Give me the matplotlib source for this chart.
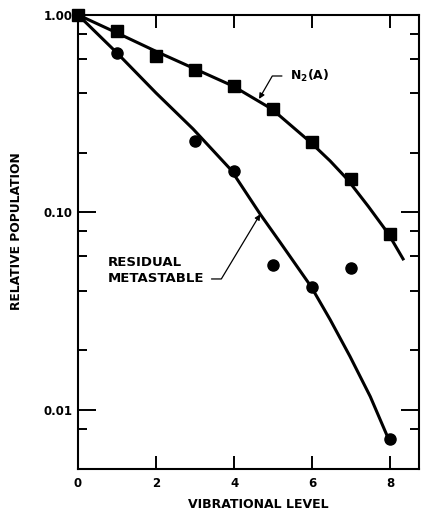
import matplotlib
matplotlib.use("Agg")
import matplotlib.pyplot as plt
from matplotlib.ticker import FixedLocator, NullFormatter

plt.rcParams["font.family"] = ["DejaVu Sans"]
plt.rcParams["font.weight"] = "bold"
plt.rcParams["axes.labelweight"] = "bold"

# measured points
levels_n2 = [0, 1, 2, 3, 4, 5, 6, 7, 8]
pop_n2 = [1.0, 0.83, 0.62, 0.526, 0.436, 0.333, 0.227, 0.147, 0.078]

levels_res = [0, 1, 3, 4, 5, 6, 7, 8]
pop_res = [1.0, 0.641, 0.229, 0.161, 0.054, 0.0416, 0.052, 0.00713]

# hand-drawn fit curves
fit_n2_x = [0, 1.0, 2.03, 3.0, 3.97, 4.97, 5.95, 6.46, 6.9, 7.44, 7.95, 8.33]
fit_n2_y = [1.0, 0.81, 0.649, 0.532, 0.436, 0.333, 0.227, 0.182, 0.147, 0.107, 0.078, 0.058]

fit_res_x = [0, 1.0, 2.0, 2.95, 3.92, 4.67, 5.18, 5.97, 6.46, 6.97, 7.49, 7.95]
fit_res_y = [1.0, 0.641, 0.402, 0.264, 0.164, 0.0977, 0.0704, 0.0421, 0.0286, 0.0186, 0.01164, 0.00715]

yticks = [0.01, 0.10, 1.00]
ytick_labels = ["0.01", "0.10", "1.00"]
yminor = [0.008, 0.02, 0.04, 0.06, 0.08, 0.2, 0.4, 0.6, 0.8]
xticks = [0, 2, 4, 6, 8]

fig = plt.figure(figsize=(4.25, 5.12), dpi=100)
ax = fig.add_axes([0.1835, 0.084, 0.8025, 0.887])

ax.set_yscale("log")
ax.set_xlim(0, 8.74)
ax.set_ylim(0.005, 1.0)

ax.plot(fit_n2_x, fit_n2_y, color="black", lw=2.2, solid_joinstyle="round", clip_on=False)
ax.plot(fit_res_x, fit_res_y, color="black", lw=2.2, solid_joinstyle="round", clip_on=False)
ax.plot(levels_n2, pop_n2, "s", color="black", ms=8, clip_on=False)
ax.plot(levels_res, pop_res, "o", color="black", ms=8, clip_on=False)

for s in ax.spines.values():
    s.set_linewidth(1.5)

ax.yaxis.set_major_locator(FixedLocator(yticks))
ax.set_yticklabels(ytick_labels)
ax.yaxis.set_minor_locator(FixedLocator(yminor))
ax.yaxis.set_minor_formatter(NullFormatter())
ax.set_xticks(xticks)
ax.tick_params(axis="both", which="both", direction="in", top=True, right=True,
               width=1.4, labelsize=8.5, colors="black")
ax.tick_params(axis="y", which="major", length=13, pad=4)
ax.tick_params(axis="y", which="minor", length=6.5)
ax.tick_params(axis="x", which="major", length=9.5, pad=6)

ax.set_xlabel("VIBRATIONAL LEVEL", fontsize=9, va="top")
ax.xaxis.set_label_coords(0.528, -0.064)
ax.set_ylabel("RELATIVE POPULATION", fontsize=8.8)
ax.yaxis.set_label_coords(-0.162, 0.524)

# curve labels with leader lines
ax.annotate("N$_2$(A)", xy=(4.64, 0.375), xytext=(5.44, 0.49),
            fontsize=9, va="center", ha="left",
            arrowprops=dict(arrowstyle="-|>", color="black", lw=0.9,
                            connectionstyle="angle,angleA=0,angleB=60,rad=0",
                            shrinkA=4, shrinkB=0, mutation_scale=8))
ax.annotate("RESIDUAL\nMETASTABLE", xy=(4.67, 0.0977), xytext=(0.77, 0.0508),
            fontsize=9.5, va="center", ha="left", linespacing=1.3,
            arrowprops=dict(arrowstyle="-|>", color="black", lw=0.9,
                            connectionstyle="angle,angleA=0,angleB=59,rad=0",
                            shrinkA=3, shrinkB=0, mutation_scale=8,
                            relpos=(1.0, 0.2)))

fig.savefig("out.png", dpi=100)
